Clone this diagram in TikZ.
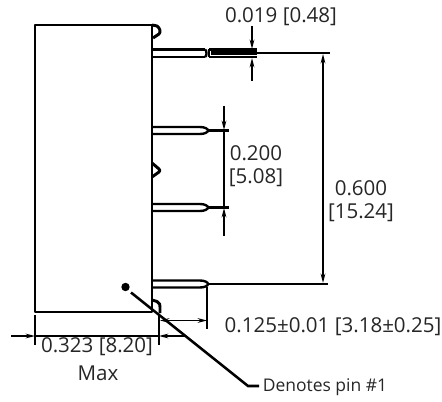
\documentclass[tikz,border=0pt]{standalone}
\usepackage{fontspec}
\setmainfont{Open Sans}
\usetikzlibrary{arrows.meta}
\tikzset{
  part/.style={line width=2.2pt,line join=round},
  pinline/.style={line width=1.8pt},
  ext/.style={line width=1.7pt},
  dimn/.style={line width=1.7pt,-{Stealth[length=7pt,width=3.5pt]}},
  dimb/.style={line width=1.3pt,{Stealth[length=7pt,width=3.5pt]}-{Stealth[length=7pt,width=3.5pt]}},
  lab/.style={inner sep=0pt,font=\fontsize{15.4pt}{20pt}\selectfont,text=black!85,align=center},
  small/.style={inner sep=0pt,font=\fontsize{13.1pt}{16pt}\selectfont,text=black!85}
}
\begin{document}
\begin{tikzpicture}[x=0.75pt,y=-0.75pt]
\useasboundingbox (0,0) rectangle (442,402);
% body
\draw[part] (35,25) rectangle (152,312);
% notches
\draw[part] (152,25) -- (157,26) .. controls (160,28) and (161,32) .. (159,34) -- (153,38);
\draw[part] (152,163) -- (159,169) .. controls (160,170) and (160,171) .. (159,172) -- (152,177);
\draw[part] (152,300) -- (157,301.5) .. controls (160,303) and (160,305) .. (160,307) -- (160,313);
% pin 1
\draw[pinline] (152,49.5) -- (205,49.5) (152,57) -- (205,57);
\draw[pinline] (205,49.5) .. controls (207,50) and (207,56.5) .. (205,57);
\draw[pinline] (209,49.5) -- (257,49.5) (209,57) -- (257,57) (209,49.5) -- (209,57);
\draw[line width=2.6pt] (211,53.2) -- (257,53.2);
\draw[ext] (257,53.2) -- (330,53.2);
% pins 2-4
\foreach \y/\e in {127/229,204/229,280.5/328}{
  \draw[pinline] (152,\y) -- (200,\y) .. controls (205,\y) and (208,\y+2) .. (208,\y+3.5)
     .. controls (208,\y+5) and (205,\y+7) .. (200,\y+7) -- (152,\y+7);
  \draw[ext] (208,\y+3.5) -- (\e,\y+3.5);
}
% 0.019 dimension
\draw[dimn] (252,26) -- (252,49);
\draw[dimn] (252,81) -- (252,58);
% 0.200 dimension
\draw[dimn] (224,106) -- (224,130);
\draw[dimn] (224,236) -- (224,208);
\draw[ext] (224,130) -- (224,207);
% 0.600 dimension
\draw[line width=1.7pt,{Stealth[length=7pt,width=3.5pt]}-{Stealth[length=7pt,width=3.5pt]}] (323,54) -- (323,283);
% 0.323 dimension
\draw[ext] (35,315) -- (35,345);
\draw[ext] (159,315) -- (159,345);
\draw[ext] (35,336) -- (159,336);
\draw[dimn] (11,336) -- (35,336);
\draw[line width=.9pt,-{Stealth[length=7pt,width=3.5pt]}] (185,336) -- (159,336);
% 0.125 dimension
\draw[ext] (207,287) -- (207,329);
\draw[dimb] (160,320.5) -- (207,320.5);
% pin marker
\fill (125.5,287) circle (4.2);
\coordinate (leadA) at (131,292.5);
\coordinate (leadB) at (248,386);
\coordinate (leadC) at (259,386);
\draw[line width=1.9pt] (leadA) -- (leadB) -- (leadC);
% labels
\node[lab] (t1) at (281,17) {0.019 [0.48]};
\node[lab] (t2) at (256,153) {0.200};
\node[lab] (t3) at (256,178) {[5.08]};
\node[lab] (t4) at (361,188) {0.600};
\node[lab] (t5) at (361,213) {[15.24]};
\node[lab] (t6) at (333,327) {0.125±0.01 [3.18±0.25]};
\node[lab] (t7) at (97,347) {0.323 [8.20]};
\node[lab] (t8) at (98,373) {Max};
\node[small] (t9) at (325,387) {Denotes pin \#1};
\end{tikzpicture}
\end{document}
